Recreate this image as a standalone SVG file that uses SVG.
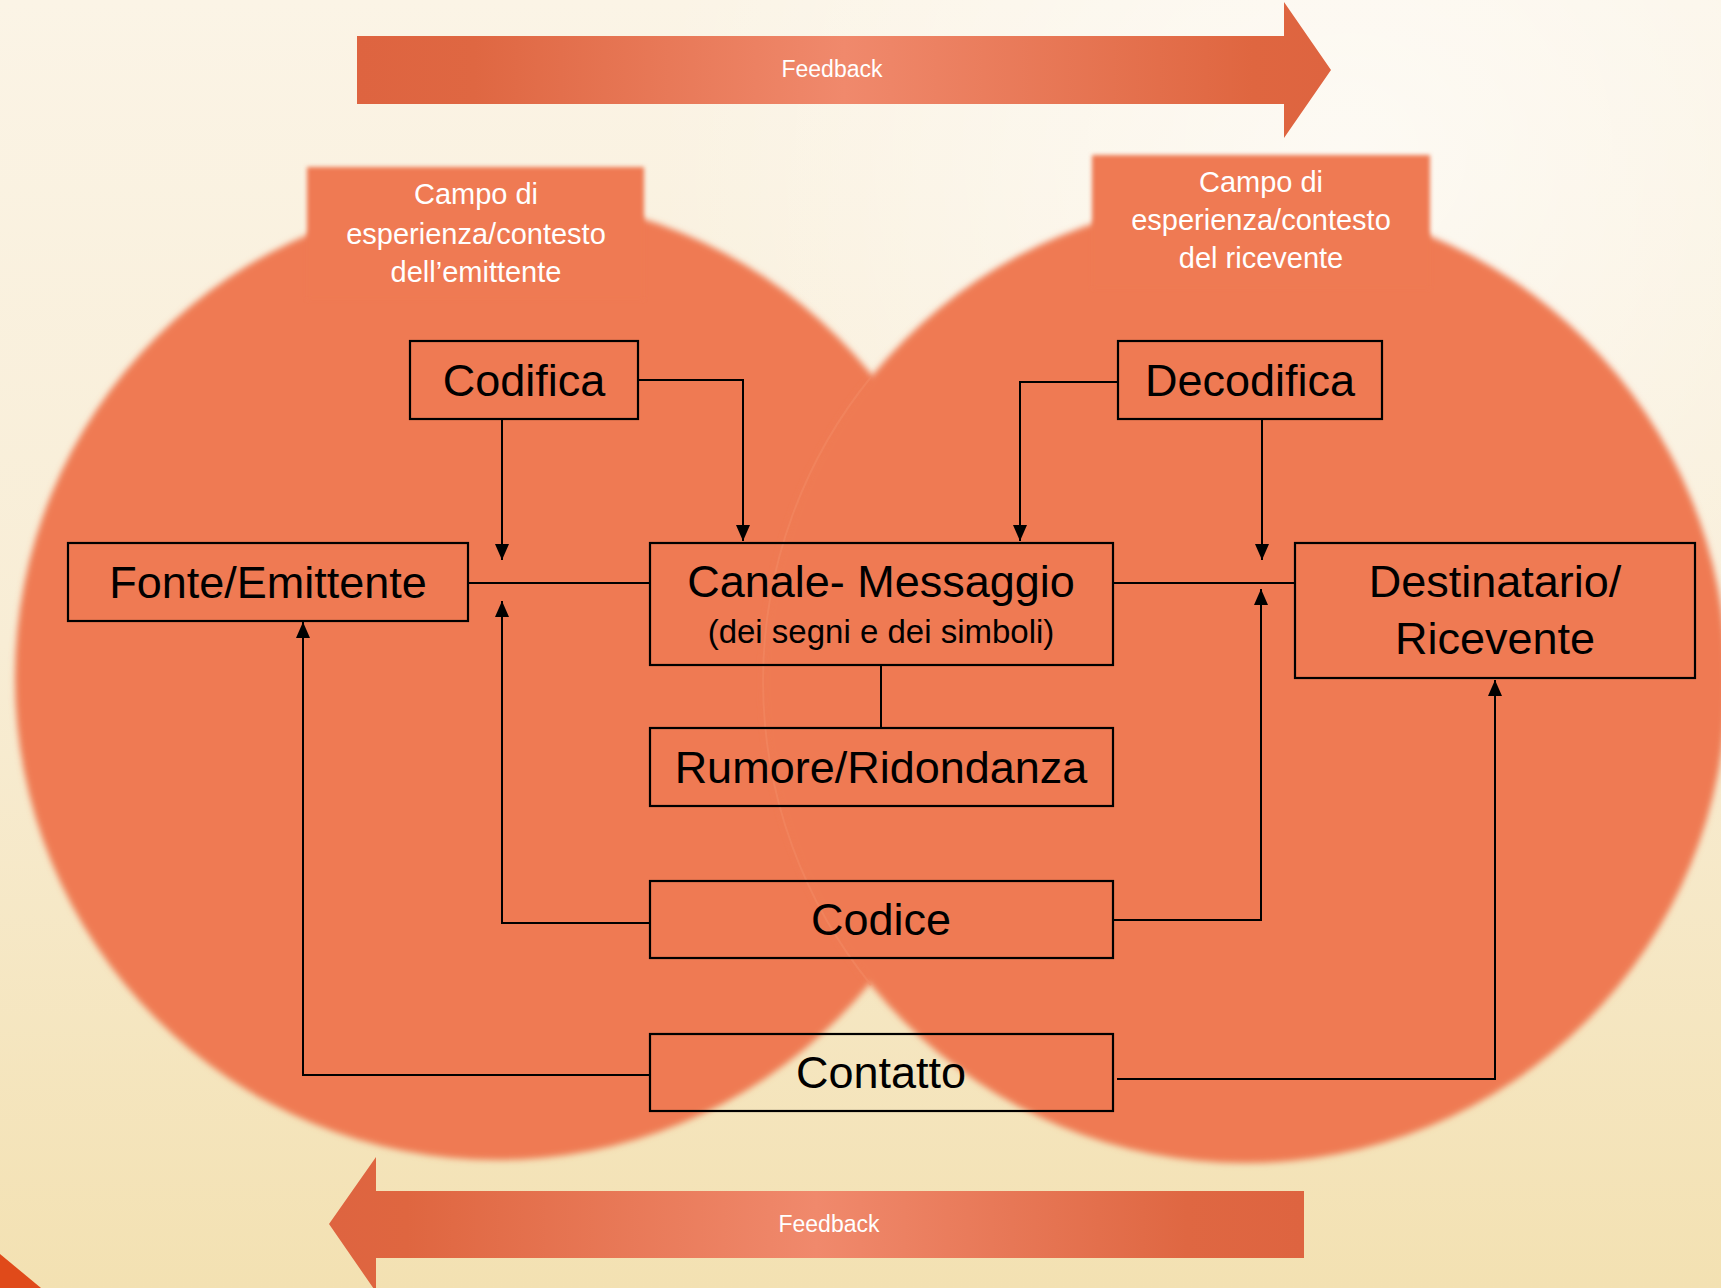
<svg xmlns="http://www.w3.org/2000/svg" width="1721" height="1288" viewBox="0 0 1721 1288">
<defs>
<style>
.node rect{fill:none;stroke:#000;stroke-width:2.2}
.lbl{font-family:"Liberation Sans",Arial,sans-serif;font-size:45px;fill:#000;text-anchor:middle}
.sub{font-family:"Liberation Sans",Arial,sans-serif;font-size:33px;fill:#000;text-anchor:middle}
.campo{font-family:"Liberation Sans",Arial,sans-serif;font-size:29px;fill:#fff;text-anchor:middle}
.fb{font-family:"Liberation Sans",Arial,sans-serif;font-size:23px;fill:#fff;text-anchor:middle}
.conn path{fill:none;stroke:#000;stroke-width:2}
.arr{marker-end:url(#arr)}
</style>
<linearGradient id="bg" x1="0" y1="0" x2="0" y2="1">
<stop offset="0" stop-color="#FBF4E6"/>
<stop offset="0.5" stop-color="#F8EDD5"/>
<stop offset="1" stop-color="#F3E1B2"/>
</linearGradient>
<radialGradient id="glow" cx="1350" cy="150" r="700" gradientUnits="userSpaceOnUse">
<stop offset="0" stop-color="#FFFFFF" stop-opacity="0.6"/>
<stop offset="1" stop-color="#FFFFFF" stop-opacity="0"/>
</radialGradient>
<linearGradient id="fbTop" x1="357" y1="0" x2="1331" y2="0" gradientUnits="userSpaceOnUse">
<stop offset="0" stop-color="#DE6440"/>
<stop offset="0.12" stop-color="#DF6742"/>
<stop offset="0.5" stop-color="#F0896C"/>
<stop offset="0.92" stop-color="#DF6640"/>
<stop offset="1" stop-color="#DE6440"/>
</linearGradient>
<linearGradient id="fbBot" x1="329" y1="0" x2="1304" y2="0" gradientUnits="userSpaceOnUse">
<stop offset="0" stop-color="#DE6440"/>
<stop offset="0.08" stop-color="#DF6640"/>
<stop offset="0.5" stop-color="#F0896C"/>
<stop offset="0.88" stop-color="#DF6742"/>
<stop offset="1" stop-color="#DE6440"/>
</linearGradient>
<filter id="soft" x="-10%" y="-10%" width="120%" height="120%">
<feGaussianBlur stdDeviation="3"/>
</filter>
<filter id="softbox" x="-10%" y="-10%" width="120%" height="120%">
<feGaussianBlur stdDeviation="2"/>
</filter>
<marker id="arr" viewBox="0 0 16 14" refX="16" refY="7" markerWidth="16" markerHeight="14" markerUnits="userSpaceOnUse" orient="auto">
<path d="M0,0 L16,7 L0,14 z" fill="#000"/>
</marker>
</defs>

<rect x="0" y="0" width="1721" height="1288" fill="url(#bg)"/>
<rect x="0" y="0" width="1721" height="1288" fill="url(#glow)"/>

<g id="background-shapes">
<circle cx="497" cy="678" r="482" fill="#EF7A53" filter="url(#soft)"/>
<circle cx="1245" cy="681" r="482" fill="#EF7A53" filter="url(#soft)"/>
<path d="M871 377 A482 482 0 0 0 871 985" fill="none" stroke="#F38B66" stroke-width="2" opacity="0.5"/>
<polygon points="0,1254 41,1288 0,1288" fill="#E04A1A"/>
</g>

<g id="feedback-top">
<polygon points="357,36 1284,36 1284,2 1331,70 1284,138 1284,104 357,104" fill="url(#fbTop)"/>
<text class="fb" x="832" y="77">Feedback</text>
</g>
<g id="feedback-bottom">
<polygon points="1304,1191 376,1191 376,1157 329,1224 376,1292 376,1258 1304,1258" fill="url(#fbBot)"/>
<text class="fb" x="829" y="1232">Feedback</text>
</g>

<g id="campo-emittente">
<rect x="307" y="167" width="337" height="132" fill="#EF7A53" filter="url(#softbox)"/>
<text class="campo" x="476" y="204">Campo di</text>
<text class="campo" x="476" y="244">esperienza/contesto</text>
<text class="campo" x="476" y="282">dell’emittente</text>
</g>
<g id="campo-ricevente">
<rect x="1092" y="155" width="338" height="133" fill="#EF7A53" filter="url(#softbox)"/>
<text class="campo" x="1261" y="192">Campo di</text>
<text class="campo" x="1261" y="230">esperienza/contesto</text>
<text class="campo" x="1261" y="268">del ricevente</text>
</g>

<g id="connectors" class="conn">
<path class="arr" d="M638 380 H743 V541"/>
<path class="arr" d="M502 419 V560"/>
<path d="M468 583 H650"/>
<path class="arr" d="M650 923 H502 V601"/>
<path class="arr" d="M650 1075 H303 V622"/>
<path class="arr" d="M1118 382 H1020 V541"/>
<path class="arr" d="M1262 419 V560"/>
<path d="M1113 583 H1295"/>
<path class="arr" d="M1113 920 H1261 V589"/>
<path class="arr" d="M1117 1079 H1495 V680"/>
<path d="M881 665 V728"/>
</g>

<g id="codifica" class="node">
<rect x="410" y="341" width="228" height="78"/>
<text class="lbl" x="524" y="396">Codifica</text>
</g>
<g id="decodifica" class="node">
<rect x="1118" y="341" width="264" height="78"/>
<text class="lbl" x="1250" y="396">Decodifica</text>
</g>
<g id="fonte-emittente" class="node">
<rect x="68" y="543" width="400" height="78"/>
<text class="lbl" x="268" y="598">Fonte/Emittente</text>
</g>
<g id="canale-messaggio" class="node">
<rect x="650" y="543" width="463" height="122"/>
<text class="lbl" x="881" y="597">Canale- Messaggio</text>
<text class="sub" x="881" y="643">(dei segni e dei simboli)</text>
</g>
<g id="destinatario-ricevente" class="node">
<rect x="1295" y="543" width="400" height="135"/>
<text class="lbl" x="1495" y="597">Destinatario/</text>
<text class="lbl" x="1495" y="654">Ricevente</text>
</g>
<g id="rumore-ridondanza" class="node">
<rect x="650" y="728" width="463" height="78"/>
<text class="lbl" x="881" y="783">Rumore/Ridondanza</text>
</g>
<g id="codice" class="node">
<rect x="650" y="881" width="463" height="77"/>
<text class="lbl" x="881" y="935">Codice</text>
</g>
<g id="contatto" class="node">
<rect x="650" y="1034" width="463" height="77"/>
<text class="lbl" x="881" y="1088">Contatto</text>
</g>
</svg>
